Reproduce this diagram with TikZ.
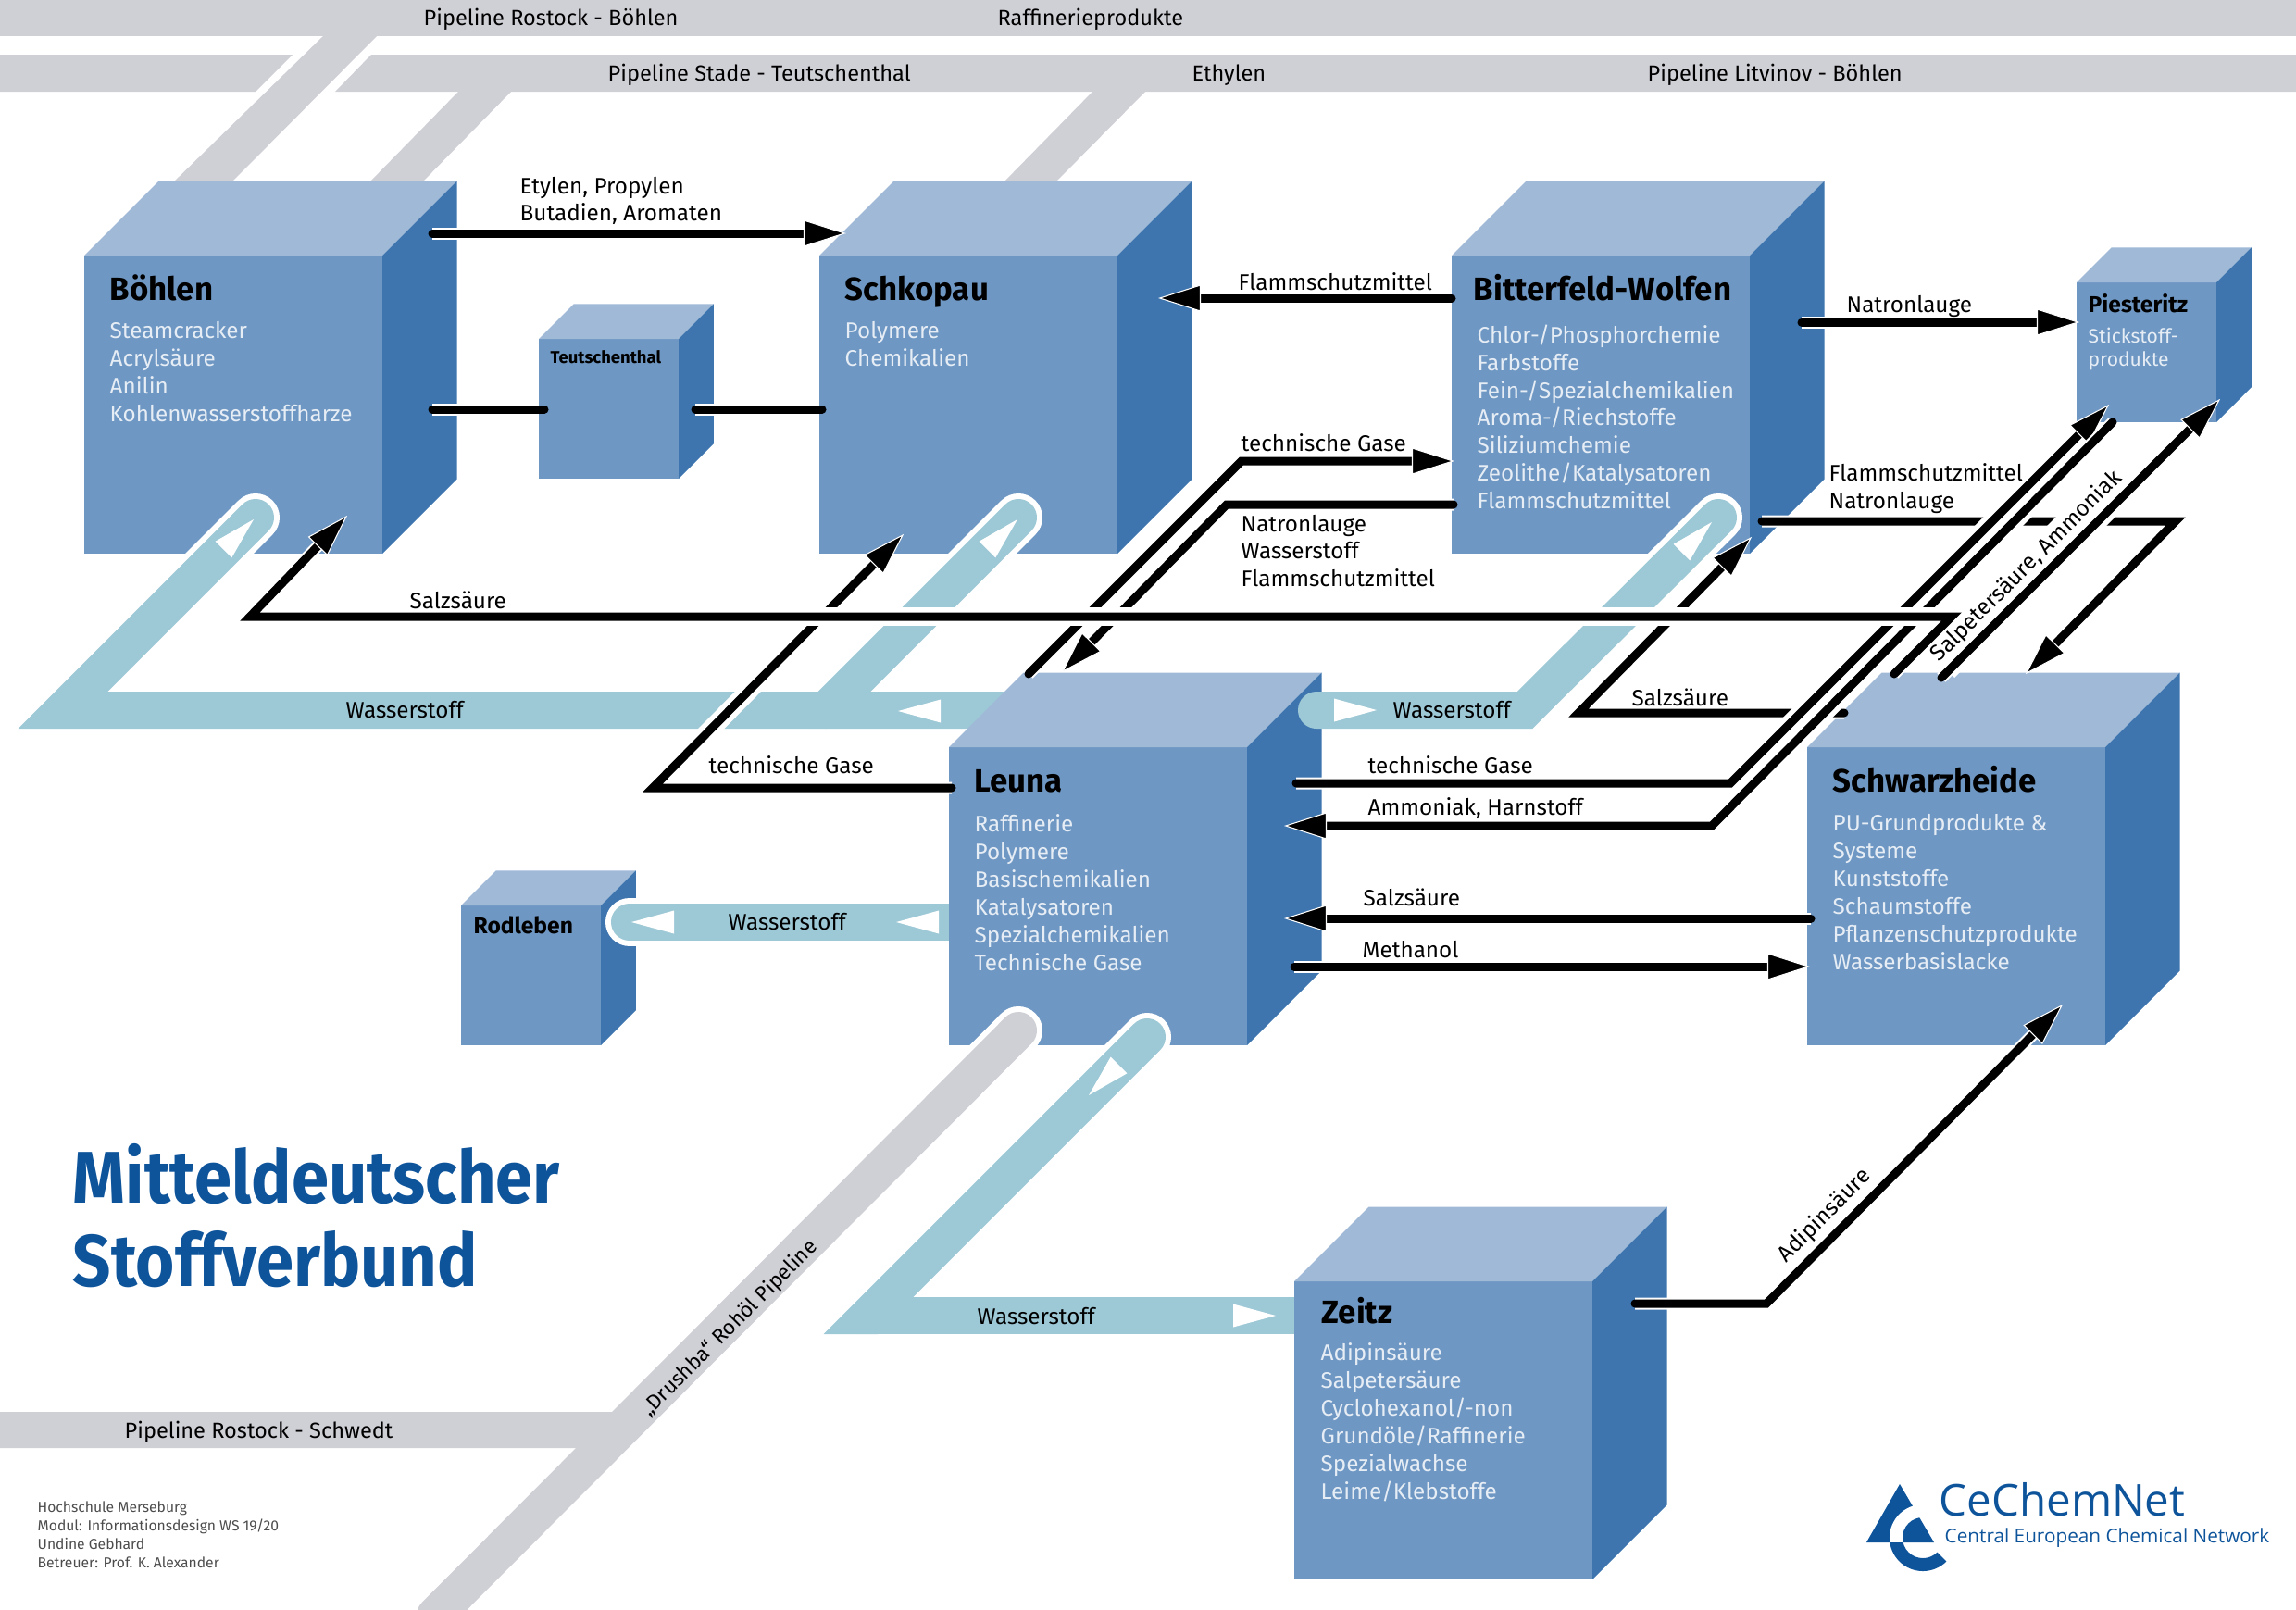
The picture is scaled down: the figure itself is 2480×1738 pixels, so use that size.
\documentclass[tikz,border=0pt]{standalone}
\usepackage{fontspec}
\setmainfont{Fira Sans}
\newfontfamily\headfont[FakeStretch=0.915]{Fira Sans}
\newfontfamily\logofont{Open Sans}
\usetikzlibrary{arrows.meta}
\definecolor{facec}{HTML}{6E97C3}
\definecolor{topc}{HTML}{9FB9D7}
\definecolor{sidec}{HTML}{3E75AE}
\definecolor{pipec}{HTML}{CFCFD6}
\definecolor{hydroc}{HTML}{9DC8D6}
\definecolor{titlec}{HTML}{0E549B}
\definecolor{itemc}{HTML}{E6EDF5}
\newcommand{\cube}[4]{%
  \node[face, minimum width=#4*0.01cm, minimum height=#4*0.01cm] (#1) at (#2,#3) {};
  \fill[topc] (#1.north west) -- ++({#4/4},{-#4/4}) -- ++(#4,0) -- (#1.north east) -- cycle;
  \fill[sidec] (#1.north east) -- ++({#4/4},{-#4/4}) -- ++(0,#4) -- (#1.south east) -- cycle;
}
\begin{document}
\begin{tikzpicture}[x=0.01cm, y=-0.01cm, font=\fontsize{6.9}{8.5}\selectfont,
  face/.style={fill=facec, anchor=north west, inner sep=0pt, outer sep=0pt},
  plantname/.style={anchor=base west, inner sep=0pt, font=\fontsize{9.9}{12}\selectfont\bfseries},
  smallname/.style={anchor=west, inner sep=0pt, font=\fontsize{7}{8}\selectfont\bfseries},
  items/.style={anchor=north west, inner sep=0pt, align=left, text=itemc},
  lab/.style={anchor=west, inner sep=0pt, align=left},
  barlab/.style={lab, font=\fontsize{6.7}{8}\selectfont},
  wire/.style={line width=0.09cm, line cap=round, preaction={draw=white, line width=0.13cm, arrows=-, shorten >=0.2cm}},
  arr/.style={shorten >=-0.03cm, -{Triangle[length=0.46cm, width=0.29cm, color=white, fill=black, line width=0.3pt]}},
  gap/.style={draw=white, line width=0.2cm},
  band/.style={draw=hydroc, line width=0.4cm, line cap=round},
  bandgap/.style={draw=white, line width=0.52cm, line cap=round},
  wtip/.pic={\fill[white] (0,0) -- (-46,-12.5) -- (-46,12.5) -- cycle;}]
  \useasboundingbox (0,0) rectangle (2480,1738);
  \fill[pipec] (0,0) rectangle (2480,39);
  \fill[pipec] (0,59) -- (316,59) -- (276,99) -- (0,99) -- cycle;
  \fill[pipec] (401,59) -- (2480,59) -- (2480,99) -- (362,99) -- cycle;
  \fill[pipec] (349,39) -- (407,39) -- (247,200) -- (184,200) -- cycle;
  \fill[pipec] (496,98) -- (553,98) -- (453,200) -- (396,200) -- cycle;
  \fill[pipec] (1181,98) -- (1238,98) -- (1137,200) -- (1081,200) -- cycle;
  \cube{boehlen}{91}{276}{322}
  \cube{schkopau}{885}{276}{322}
  \cube{bitterfeld}{1568}{276}{322}
  \cube{teutschenthal}{582}{366}{151}
  \cube{piesteritz}{2243}{305}{151}
  \cube{schwarzheide}{1952}{807}{322}
  \cube{zeitz}{1398}{1384}{322}
  \cube{rodleben}{498}{978}{151}
  \coordinate (hBoehlen) at (276,559);
  \coordinate (hBoehlenC) at (68,767);
  \coordinate (hLeuna) at (1100,767);
  \coordinate (hSchkopau) at (1100,559);
  \coordinate (hSchkopauC) at (892,767);
  \coordinate (hRodleben) at (680,996);
  \coordinate (hLeunaW) at (1040,996);
  \draw[bandgap] (hBoehlen) -- (hBoehlenC);
  \draw[bandgap] (hSchkopau) -- (hSchkopauC);
  \draw[bandgap] (hRodleben) -- (hLeunaW);
  \draw[band] (hBoehlen) -- (hBoehlenC) -- (hLeuna);
  \draw[band] (hSchkopau) -- (hSchkopauC);
  \draw[band] (hRodleben) -- (hLeunaW);
  \cube{leuna}{1025}{807}{322}
  \coordinate (hBitter) at (1856,559);
  \coordinate (hBitterC) at (1647,767);
  \coordinate (hLeunaE) at (1422,767);
  \coordinate (hLeunaS) at (1239,1120);
  \coordinate (hZeitzC) at (938,1421);
  \coordinate (hZeitz) at (1398,1421);
  \coordinate (oLeuna) at (1100,1113);
  \coordinate (oSouth) at (470,1745);
  \draw[bandgap] (hBitter) -- (hBitterC);
  \draw[band] (hBitter) -- (hBitterC) -- (hLeunaE);
  \draw[bandgap] (hLeunaS) -- (hZeitzC);
  \draw[band, line cap=butt] (hZeitzC) -- (hZeitz);
  \draw[band] (hLeunaS) -- (hZeitzC) -- ++(10,0);
  \draw[bandgap] (oLeuna) -- (oSouth);
  \fill[pipec] (0,1525) -- (680,1525) -- (640,1564) -- (0,1564) -- cycle;
  \draw[band, draw=pipec] (oLeuna) -- (oSouth);
  \pic[rotate=45] at (274,561) {wtip};
  \pic[rotate=45] at (1099,561) {wtip};
  \pic[rotate=45] at (1849,564) {wtip};
  \pic[rotate=180] at (970,768) {wtip};
  \pic at (1487,767) {wtip};
  \pic[rotate=180] at (682,996) {wtip};
  \pic[rotate=180] at (968,996) {wtip};
  \pic[rotate=225] at (1176,1183) {wtip};
  \pic at (1378,1421) {wtip};
  \node[barlab] (barRostockB) at (457,21) {Pipeline Rostock - Böhlen};
  \node[barlab] (barRaff) at (1077,21) {Raffinerieprodukte};
  \node[barlab] (barStade) at (656,81) {Pipeline Stade - Teutschenthal};
  \node[barlab] (barEthylen) at (1287,81) {Ethylen};
  \node[barlab] (barLitvinov) at (1779,81) {Pipeline Litvinov - Böhlen};
  \node[barlab] (barRostockS) at (134,1547) {Pipeline Rostock - Schwedt};
  \node[inner sep=0pt, rotate=45, font=\fontsize{6.4}{8}\selectfont] (barDrushba) at (788,1435) {„Drushba“ Rohöl Pipeline};
  \node[plantname] (nBoehlen) at (118,324) {Böhlen};
  \node[items] (iBoehlen) at (118,347) {Steamcracker\\Acrylsäure\\Anilin\\Kohlenwasserstoffharze};
  \node[plantname] (nSchkopau) at (912,324) {Schkopau};
  \node[items] (iSchkopau) at (912,347) {Polymere\\Chemikalien};
  \node[plantname] (nBitter) at (1591,324) {Bitterfeld-Wolfen};
  \node[items] (iBitter) at (1595,350) {Chlor-/Phosphorchemie\\Farbstoffe\\Fein-/Spezialchemikalien\\Aroma-/Riechstoffe\\Siliziumchemie\\Zeolithe/Katalysatoren\\Flammschutzmittel};
  \node[smallname, font=\fontsize{5.25}{8}\selectfont\bfseries] (nTeutsch) at (594,386) {Teutschenthal};
  \node[smallname] (nPiest) at (2255,328) {Piesteritz};
  \node[items, font=\fontsize{6}{7.1}\selectfont] (iPiest) at (2255,353) {Stickstoff-\\produkte};
  \node[plantname] (nLeuna) at (1052,855) {Leuna};
  \node[items] (iLeuna) at (1052,879) {Raffinerie\\Polymere\\Basischemikalien\\Katalysatoren\\Spezialchemikalien\\Technische Gase};
  \node[plantname] (nSchwarz) at (1979,855) {Schwarzheide};
  \node[items] (iSchwarz) at (1979,879) {PU-Grundprodukte \&\\Systeme\\Kunststoffe\\Schaumstoffe\\Pflanzenschutzprodukte\\Wasserbasislacke};
  \node[plantname] (nZeitz) at (1427,1429) {Zeitz};
  \node[items] (iZeitz) at (1426,1450) {Adipinsäure\\Salpetersäure\\Cyclohexanol/-non\\Grundöle/Raffinerie\\Spezialwachse\\Leime/Klebstoffe};
  \node[smallname] (nRodleben) at (511,999) {Rodleben};
  \node[lab] (lHydroA) at (373,767) {Wasserstoff};
  \node[lab] (lHydroB) at (1504,767) {Wasserstoff};
  \node[lab] (lHydroC) at (786,996) {Wasserstoff};
  \node[lab] (lHydroD) at (1055,1422) {Wasserstoff};
  \coordinate (aBoehlen) at (467,252);
  \coordinate (aSchkopau) at (911,252);
  \coordinate (bBoehlen) at (467,442);
  \coordinate (bTeutschW) at (588,442);
  \coordinate (bTeutschE) at (751,442);
  \coordinate (bSchkopau) at (888,442);
  \coordinate (cBitter) at (1568,322);
  \coordinate (cSchkopau) at (1254,322);
  \coordinate (dBitter) at (1946,348);
  \coordinate (dPiest) at (2243,348);
  \coordinate (eLeuna) at (1111,728);
  \coordinate (eBend) at (1341,498);
  \coordinate (eBitter) at (1568,498);
  \coordinate (fBitter) at (1570,545);
  \coordinate (fBend) at (1325,545);
  \coordinate (fLeuna) at (1149,724);
  \coordinate (gLeuna) at (1028,851);
  \coordinate (gBend) at (705,851);
  \coordinate (gSchkopau) at (974,579);
  \coordinate (hgBitter) at (1903,563);
  \coordinate (hgBend) at (2350,563);
  \coordinate (hgSchwarz) at (2190,726);
  \coordinate (kSchwarz) at (1992,770);
  \coordinate (kBend) at (1705,770);
  \coordinate (kBitter) at (1890,582);
  \coordinate (mLeuna) at (1400,846);
  \coordinate (mBend) at (1869,846);
  \coordinate (mPiest) at (2276,439);
  \coordinate (nPiestS) at (2282,456);
  \coordinate (nBend) at (1849,892);
  \coordinate (nLeunaE) at (1390,892);
  \coordinate (pSchwarz) at (2097,732);
  \coordinate (pPiest) at (2396,433);
  \coordinate (qSchwarz) at (1956,992);
  \coordinate (qLeuna) at (1390,992);
  \coordinate (rLeuna) at (1398,1044);
  \coordinate (rSchwarz) at (1952,1044);
  \coordinate (sZeitz) at (1766,1408);
  \coordinate (sBend) at (1908,1408);
  \coordinate (sSchwarz) at (2226,1087);
  \coordinate (tSchwarz) at (2046,728);
  \coordinate (tBendE) at (2108,666);
  \coordinate (tBendW) at (270,666);
  \coordinate (tBoehlen) at (373,559);
  \draw[wire, arr] (aBoehlen) -- (aSchkopau);
  \draw[wire] (bBoehlen) -- (bTeutschW);
  \draw[wire] (bTeutschE) -- (bSchkopau);
  \draw[wire, arr] (cBitter) -- (cSchkopau);
  \draw[wire, arr] (dBitter) -- (dPiest);
  \draw[wire, arr] (eLeuna) -- (eBend) -- (eBitter);
  \draw[wire, arr] (fBitter) -- (fBend) -- (fLeuna);
  \draw[gap, shorten >=0.5cm] (gBend) -- (gSchkopau);
  \draw[wire, arr] (gLeuna) -- (gBend) -- (gSchkopau);
  \draw[wire, arr] (hgBitter) -- (hgBend) -- (hgSchwarz);
  \draw[wire, arr] (kSchwarz) -- (kBend) -- (kBitter);
  \draw[wire, arr] (qSchwarz) -- (qLeuna);
  \draw[wire, arr] (rLeuna) -- (rSchwarz);
  \draw[wire, arr] (sZeitz) -- (sBend) -- (sSchwarz);
  \node[inner sep=1pt, fill=white, rotate=45] (lSalp) at (2189,612) {Salpetersäure, Ammoniak};
  \draw[gap, shorten >=0.5cm] (mBend) -- (mPiest);
  \draw[gap, shorten <=0.1cm] (nPiestS) -- (nBend);
  \draw[gap, shorten <=0.1cm, shorten >=0.5cm] (pSchwarz) -- (pPiest);
  \draw[wire, arr] (mLeuna) -- (mBend) -- (mPiest);
  \draw[wire, arr] (nPiestS) -- (nBend) -- (nLeunaE);
  \draw[wire, arr] (pSchwarz) -- (pPiest);
  \draw[gap] (tBendE) -- (tBendW);
  \draw[wire, arr] (tSchwarz) -- (tBendE) -- (tBendW) -- (tBoehlen);
  \node[lab] (lEtylen) at (561,217) {Etylen, Propylen\\[-0.1pt]Butadien, Aromaten};
  \node[lab] (lFlamm) at (1337,304) {Flammschutzmittel};
  \node[lab] (lNatron) at (1994,331) {Natronlauge};
  \node[lab] (lTechA) at (1340,478) {technische Gase};
  \node[lab] (lNatronB) at (1340,595) {Natronlauge\\Wasserstoff\\Flammschutzmittel};
  \node[lab] (lFlammB) at (1975,528) {Flammschutzmittel\\Natronlauge};
  \node[lab] (lSalzA) at (442,648) {Salzsäure};
  \node[lab] (lSalzB) at (1762,753) {Salzsäure};
  \node[lab] (lTechB) at (765,826) {technische Gase};
  \node[lab] (lTechC) at (1477,826) {technische Gase};
  \node[lab] (lAmmon) at (1477,873) {Ammoniak, Harnstoff};
  \node[lab] (lSalzC) at (1472,969) {Salzsäure};
  \node[lab] (lMeth) at (1471,1026) {Methanol};
  \node[inner sep=0pt, rotate=45] (lAdipin) at (1971,1313) {Adipinsäure};
  \node[anchor=west, inner sep=0pt, align=left, text=titlec, font=\headfont\fontsize{22.5}{25.5}\selectfont\bfseries] (title) at (78,1313) {Mitteldeutscher\\Stoffverbund};
  \node[anchor=west, inner sep=0pt, align=left, text=black!70, font=\fontsize{4.45}{5.67}\selectfont] (credit) at (40,1658) {Hochschule Merseburg\\Modul: Informationsdesign WS 19/20\\Undine Gebhard\\Betreuer: Prof. K. Alexander};
  \fill[titlec] (2052,1603) -- (2016,1666) -- (2089,1666) -- cycle;
  \begin{scope}
    \clip (2000,1600) rectangle (2120,1666);
    \fill[white] (2077,1661) circle (0.36cm);
    \clip (2077,1661) circle (0.22cm);
    \fill[titlec] (2052,1603) -- (2016,1666) -- (2089,1666) -- cycle;
  \end{scope}
  \begin{scope}
    \clip (2000,1666) rectangle (2120,1710);
    \fill[titlec] (2077,1661) ++(180:0.36cm) arc[start angle=180, end angle=315, radius=0.36cm] -- ++(135:0.14cm) arc[start angle=315, end angle=180, radius=0.22cm] -- cycle;
  \end{scope}
  \node[anchor=west, inner sep=0pt, text=titlec, font=\logofont\fontsize{13.5}{15}\selectfont] (logoName) at (2094,1620) {CeChemNet};
  \node[anchor=west, inner sep=0pt, text=titlec, font=\logofont\fontsize{5.9}{8}\selectfont] (logoSub) at (2100,1661) {Central European Chemical Network};
\end{tikzpicture}
\end{document}
